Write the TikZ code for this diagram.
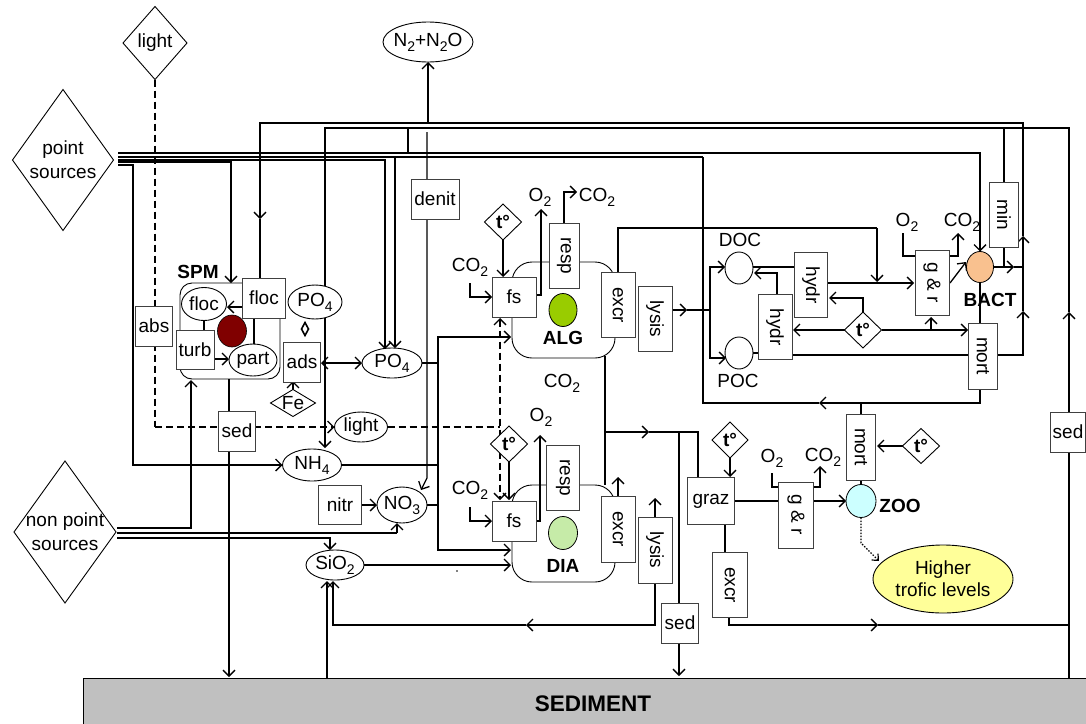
\documentclass[tikz,border=0pt]{standalone}
\usepackage{fontspec}
\setmainfont{Liberation Sans}
\usepackage{graphicx}
\usetikzlibrary{shapes.geometric,arrows.meta}
\definecolor{sedgray}{HTML}{C0C0C0}
\definecolor{spmred}{HTML}{800000}
\definecolor{algcol}{HTML}{99CC00}
\definecolor{diacol}{HTML}{C6EBA8}
\definecolor{bactcol}{HTML}{F9C18F}
\definecolor{zoocol}{HTML}{CCFFFF}
\definecolor{hicol}{HTML}{FFFF99}
\definecolor{boxline}{HTML}{404040}
\newcommand\subs[1]{\raisebox{-0.5ex}{\fontsize{14}{14}\selectfont #1}}
\newcommand\vtext[1]{\rotatebox{-90}{#1}}
\newcommand\tdeg{\textbf{t°}}
\pgfdeclarelayer{lines}
\pgfsetlayers{lines,main}
\begin{document}
\begin{tikzpicture}[x=1pt,y=-1pt,
  every node/.style={font=\fontsize{19}{24}\selectfont, inner sep=0pt, outer sep=0pt},
  ln/.style={line width=1.3pt, black},
  ar/.style={ln, -{Straight Barb[length=6pt,width=12pt]}},
  dar/.style={ln, {Straight Barb[length=6pt,width=12pt]}-{Straight Barb[length=6pt,width=12pt]}},
  dsh/.style={dash pattern=on 7pt off 4pt},
  bx/.style={draw=boxline, line width=0.9pt, fill=white, rectangle, minimum width=37pt, minimum height=40pt},
  vbx/.style={bx, minimum width=33pt, minimum height=65pt},
  ell/.style={draw=black, line width=0.9pt, ellipse, fill=white},
  dia/.style={draw=black, line width=0.9pt, diamond, fill=white, minimum width=37pt, minimum height=36pt},
  blbl/.style={font=\fontsize{19}{24}\selectfont\bfseries},
  rrect/.style={draw=black, line width=0.9pt}
]
\useasboundingbox (0,0) rectangle (1086,723);

% ---------- sediment ----------
\node[draw=black, line width=0.9pt, fill=sedgray, minimum width=1010pt, minimum height=46pt, anchor=north west] (sediment) at (83,678) {};
\node[font=\fontsize{22.5}{24}\selectfont\bfseries] (sedlbl) at (593,704) {SEDIMENT};

% ---------- sources ----------
\node[dia, minimum width=64pt, minimum height=73pt, label=center:light] (lightd) at (155,43) {};
\node[dia, minimum width=101pt, minimum height=141pt, label={[align=center]center:{point\\sources}}] (ps) at (63,160) {};
\node[dia, minimum width=102pt, minimum height=142pt, label={[align=center]center:{non point\\sources}}] (nps) at (65,532) {};
\node[ell, minimum width=90pt, minimum height=40pt, label=center:{N\subs{2}+N\subs{2}O}] (n2) at (428,42) {};

% ---------- SPM ----------
\node[rrect, rounded corners=12pt, minimum width=100pt, minimum height=96pt] (spm) at (230,331) {};
\node[blbl] (spmlbl) at (198,272) {SPM};
\node[bx, minimum width=43pt, minimum height=40pt] (flocb) at (264,298) {floc};
\node[ell, minimum width=45pt, minimum height=33pt, label=center:floc] (floce) at (204,304) {};
\node[ellipse, fill=spmred, draw=black, line width=0.6pt, minimum width=29pt, minimum height=32pt] (spmdot) at (232,331) {};
\node[bx, minimum width=38pt, minimum height=39pt] (turb) at (195,350) {turb};
\node[ell, minimum width=48pt, minimum height=32pt, label=center:part] (part) at (253,360) {};
\node[bx] (abs) at (154,326) {abs};
\node[ell, minimum width=54pt, minimum height=34pt, label=center:{PO\subs{4}}] (po4s) at (315,302) {};
\node[bx] (ads) at (302,362) {ads};
\node[dia, minimum width=45pt, minimum height=27pt, label=center:Fe] (fe) at (293,403) {};
\node[draw=black, line width=1.6pt, diamond, minimum width=7pt, minimum height=13pt] (pdia) at (305,329) {};
\node[bx] (spmsed) at (237,431) {sed};

% ---------- nutrients ----------
\node[ell, minimum width=53pt, minimum height=30pt, label=center:light] (light2) at (361,427) {};
\node[ell, minimum width=59pt, minimum height=32pt, label=center:{NH\subs{4}}] (nh4) at (312,465) {};
\node[bx, minimum width=43pt, minimum height=39pt] (nitr) at (340,505) {nitr};
\node[ell, minimum width=50pt, minimum height=36pt, label=center:{NO\subs{3}}] (no3) at (402,505) {};
\node[ell, minimum width=58pt, minimum height=30pt, label=center:{SiO\subs{2}}] (sio2) at (335,565) {};
\node[ell, minimum width=60pt, minimum height=30pt, label=center:{PO\subs{4}}] (po4) at (392,363) {};
\node[bx, minimum width=48pt, minimum height=40pt] (denit) at (435,199) {denit};

% ---------- ALG ----------
\node[rrect, rounded corners=20pt, minimum width=103pt, minimum height=96pt] (alg) at (563.5,310) {};
\node[dia, label=center:\tdeg] (algt) at (503,222) {};
\node[bx, minimum width=44pt] (algfs) at (514,297) {fs};
\node[vbx, minimum width=30pt] (algresp) at (564,256) {\vtext{resp}};
\node[vbx, minimum width=34pt] (algexcr) at (618,305) {\vtext{excr}};
\node[vbx, minimum width=34pt] (alglysis) at (655,319) {\vtext{lysis}};
\node[ellipse, draw=black, line width=0.8pt, fill=algcol, minimum width=28pt, minimum height=33pt] (algdot) at (563,310) {};
\node[blbl] (alglbl) at (563,338) {ALG};
\node (co2a) at (470,267) {CO\subs{2}};
\node (o2a) at (540,197) {O\subs{2}};
\node (co2b) at (597,197) {CO\subs{2}};
\node (co2m) at (562,383) {CO\subs{2}};

% ---------- DIA ----------
\node[rrect, rounded corners=20pt, minimum width=103pt, minimum height=97pt] (dia) at (563.5,533.5) {};
\node[dia, label=center:\tdeg] (diat) at (509,444) {};
\node[bx, minimum width=44pt] (diafs) at (514,521) {fs};
\node[vbx] (diaresp) at (563,478) {\vtext{resp}};
\node[vbx, minimum width=34pt, minimum height=66pt] (diaexcr) at (618,529) {\vtext{excr}};
\node[vbx, minimum width=34pt, minimum height=66pt] (dialysis) at (655,550) {\vtext{lysis}};
\node[bx] (diased) at (680,623) {sed};
\node[ellipse, draw=black, line width=0.8pt, fill=diacol, minimum width=29pt, minimum height=33pt] (diadot) at (563,533) {};
\node[blbl] (dialbl) at (563,566) {DIA};
\node (co2c) at (470,490) {CO\subs{2}};
\node (o2b) at (541,417) {O\subs{2}};
\fill (457,571) circle (0.8pt);

% ---------- DOC / POC / BACT ----------
\node (doclbl) at (740,240) {DOC};
\node[ell, minimum width=28pt, minimum height=32pt] (doc) at (739,268) {};
\node[ell, minimum width=28pt, minimum height=32pt] (poc) at (739,353) {};
\node (poclbl) at (738,381) {POC};
\node[vbx] (hydr1) at (811,285) {\vtext{hydr}};
\node[vbx, minimum width=34pt] (hydr2) at (775,327) {\vtext{hydr}};
\node[dia, label=center:\tdeg] (bt) at (863,330) {};
\node[vbx, minimum width=34pt] (bgr) at (932,283) {\vtext{g \& r}};
\node (o2c) at (907,222) {O\subs{2}};
\node (co2d) at (962,222) {CO\subs{2}};
\node[ellipse, draw=black, line width=0.8pt, fill=bactcol, minimum width=27pt, minimum height=31pt] (bact) at (980,267) {};
\node[blbl] (bactlbl) at (990,300) {BACT};
\node[vbx, minimum width=29pt, minimum height=66pt] (bmort) at (983,356) {\vtext{mort}};
\node[vbx, minimum width=29pt] (minb) at (1004,215) {\vtext{min}};
\node[bx, minimum width=35pt] (rsed) at (1068,432) {sed};

% ---------- ZOO ----------
\node[vbx, minimum width=29pt, minimum height=66pt] (zmort) at (861,447) {\vtext{mort}};
\node[dia, minimum height=35pt, label=center:\tdeg] (zt) at (921,446) {};
\node[ellipse, draw=black, line width=0.8pt, fill=zoocol, minimum width=30pt, minimum height=33pt] (zoo) at (861,501) {};
\node[blbl] (zoolbl) at (900,506) {ZOO};
\node[vbx, minimum width=35pt, minimum height=66pt] (zgr) at (796,515) {\vtext{g \& r}};
\node (o2d) at (772,458) {O\subs{2}};
\node (co2e) at (823,457) {CO\subs{2}};
\node[bx, minimum width=47pt, minimum height=47pt] (graz) at (711,501) {graz};
\node[dia, minimum width=36pt, label=center:\tdeg] (gt) at (730,440) {};
\node[vbx, minimum width=35pt] (zexcr) at (730,585) {\vtext{excr}};
\node[ell, fill=hicol, minimum width=140pt, minimum height=68pt, label={[align=center, font=\fontsize{19}{22}\selectfont]center:{Higher\\trofic levels}}] (higher) at (943,579) {};

% =================== connectors ===================
\begin{pgfonlayer}{lines}
% light
\draw[ln,dsh] (lightd.south) -- (155,427);
\draw[ar,dsh] (155,427) -- (light2.west);
\draw[ln,dsh] (light2.east) -- (500,427);
\draw[dar,dsh] (500,318) -- (500,500);
% point sources bundle
\draw[ar] (118,153) -- (980,153) -- (bact.north);
\draw[ln] (118,157) -- (703,157);
\draw[ar] (395,157) -- (395,348);
\draw[ar] (118,160) -- (385,160) -- (385,349);
\draw[ar] (118,162) -- (231,162) -- (231,283);
\draw[ar] (118,165) -- (133,165) -- (133,465) -- (nh4.west);
% loop y=123
\draw[ar] (bmort.east |- 0,355) -- (1023,355) -- (1023,311);
\draw[ar] (1023,311) -- (1023,236);
\draw[ar] (1023,236) -- (1023,123) -- (260,123) -- (260,219);
\draw[ln] (260,219) -- (260,278);
% loop y=128
\draw[ar] (1069,678) -- (1069,312);
\draw[ar] (1069,312) -- (1069,128) -- (325,128) -- (325,448);
\draw[ln] (1004,128) -- (minb.north);
\draw[ln] (minb.south) -- (1004,267);
\draw[ln] (408,128) -- (408,153);
% N2
\draw[ar] (427,132) -- (427,478) -- (421,490);
\draw[ar] (428,122) -- (n2.south);
% nutrient collector
\draw[ln] (po4.east) -- (438,363);
\draw[ar] (438,363) -- (438,337) -- (511,337);
\draw[ar] (438,363) -- (438,550) -- (511,550);
\draw[ln] (nh4.east) -- (438,465);
\draw[ln] (no3.east) -- (438,505);
\draw[ar] (sio2.east) -- (511,565);
% ads / Fe / PO4
\draw[dar] (321,363) -- (po4.west);
\draw[ar] (293,390) -- (293,381);
% SPM internals
\draw[ar] (243,307) -- (227,307);
\draw[ar] (turb.east |- 0,359) -- (229,359);
\draw[ln] (204,321) -- (204,331);
\draw[ln] (254,318) -- (254,344);
% non point sources bundle
\draw[ar] (117,528) -- (191,528) -- (191,380);
\draw[ln] (117,533) -- (397,533);
\draw[ar] (397,533) -- (397,523);
\draw[ar] (117,538) -- (330,538) -- (330,550);
% SPM sedimentation, silica
\draw[ar] (229,379) -- (229,677);
\draw[ar] (327,678) -- (327,581);
\draw[ar] (dialysis.south) -- (655,625) -- (526,625);
\draw[ar] (526,625) -- (333,625) -- (333,581);
\draw[ar] (nitr.east) -- (no3.west);
% ALG
\draw[ar] (470,283) -- (470,297) -- (algfs.west);
\draw[ar] (503,240) -- (503,277);
\draw[ar] (536,295) -- (541,295) -- (541,209);
\draw[ar] (564,223) -- (564,192) -- (577,192);
\draw[ln] (618,273) -- (618,228) -- (877,228);
\draw[ar] (877,228) -- (877,282);
\draw[ar] (672,310) -- (687,310);
\draw[ln] (687,310) -- (710,310);
\draw[ar] (710,310) -- (710,267) -- (725,267);
\draw[ar] (710,310) -- (710,358) -- (726,358);
% ALG - DIA
\draw[ln] (605,356) -- (605,485);
\draw[ar] (605,432) -- (649,432);
\draw[ln] (649,432) -- (698,432) -- (698,478);
\draw[ln] (679,432) -- (679,603);
\draw[ar] (679,643) -- (679,676);
% DIA
\draw[ar] (470,507) -- (470,521) -- (diafs.west);
\draw[ar] (509,462) -- (509,500);
\draw[ar] (536,521) -- (540,521) -- (540,435);
\draw[ar] (618,496) -- (618,477);
\draw[ar] (655,517) -- (655,498);
% DOC / POC / BACT
\draw[ln] (doc.east |- 0,267) -- (795,267);
\draw[ar] (777,294) -- (777,273) -- (754,273);
\draw[ln] (753,353) -- (758,353);
\draw[ar] (828,283) -- (914,283);
\draw[ar] (bt.west) -- (793,330);
\draw[ar] (863,312) -- (863,298) -- (829,298);
\draw[ar] (bt.east) -- (968,330);
\draw[ar] (931,330) -- (931,317);
\draw[ln] (792,355) -- (969,355);
\draw[ln] (903,233) -- (903,256) -- (915,256);
\draw[ar] (949,256) -- (958,256) -- (958,233);
\draw[ar] (950,283) -- (966,262);
\draw[ar] (994,267) -- (1014,267);
\draw[ln] (1014,267) -- (1023,267);
\draw[ln] (bact.south) -- (980,323);
\draw[ar] (980,389) -- (980,403) -- (819,403);
\draw[ln] (819,403) -- (703,403) -- (703,157);
\draw[ln] (861,403) -- (zmort.north);
\draw[ar] (zt.west) -- (877,446);
\draw[ln] (zmort.south) -- (zoo.north);
% ZOO
\draw[ar] (730,458) -- (730,477);
\draw[ln] (graz.east |- 0,501) -- (zgr.west |- 0,501);
\draw[ar] (zgr.east |- 0,501) -- (zoo.west);
\draw[ln] (772,473) -- (772,487) -- (778,487);
\draw[ar] (813,487) -- (820,487) -- (820,466);
\draw[ln] (725,525) -- (725,552);
\draw[ar] (729,617) -- (729,625) -- (878,625);
\draw[ln] (878,625) -- (1069,625);
\draw[line width=1.2pt, dash pattern=on 1.5pt off 1.5pt, -{Straight Barb[length=5pt,width=9pt]}] (zoo.south) -- (861,543) -- (879,561);
\end{pgfonlayer}
\end{tikzpicture}
\end{document}
